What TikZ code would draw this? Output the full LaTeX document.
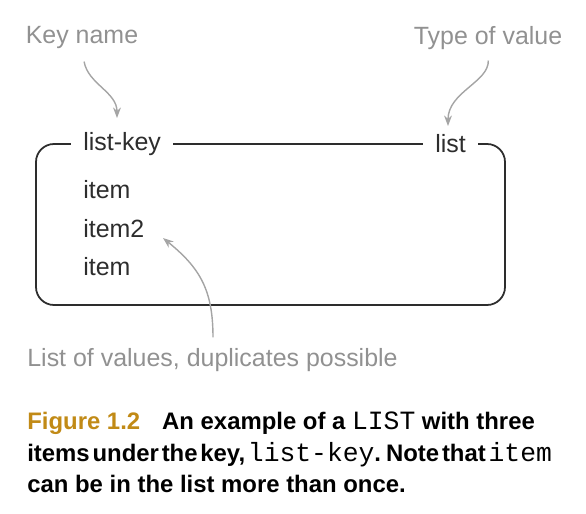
\documentclass[tikz,border=0pt]{standalone}
\usepackage{fontspec}
\setmainfont{Liberation Sans}
\setmonofont{Liberation Mono}
\usetikzlibrary{arrows.meta}
\definecolor{notegray}{RGB}{145,145,145}
\definecolor{arrowgray}{RGB}{165,165,165}
\definecolor{inkgray}{RGB}{45,45,45}
\definecolor{figgold}{RGB}{193,138,22}
\newcommand{\keycode}[1]{{\mdseries\ttfamily\fontsize{15}{17.9}\selectfont #1}}
\tikzstyle{note} = [text=notegray, font=\fontsize{14.2}{17}\selectfont, inner sep=0pt]
\tikzstyle{entry} = [text=inkgray, font=\fontsize{14.2}{17}\selectfont, inner sep=0pt, anchor=west]
\tikzstyle{edge} = [entry, fill=white, inner xsep=0.24cm, inner ysep=2pt]
\tikzstyle{frame} = [draw=inkgray, line width=1pt, rounded corners=0.36cm]
\tikzstyle{pointer} = [draw=arrowgray, line width=0.8pt, -{Stealth[length=6pt,width=4.5pt]}]
\tikzstyle{caption} = [anchor=north west, align=left, inner sep=0pt, font=\bfseries\fontsize{13.6}{17.9}\selectfont]

\begin{document}
\begin{tikzpicture}[x=0.02cm, y=-0.02cm]
\useasboundingbox (0,0) rectangle (586,514);
% the list box
\draw [frame] (36,144) rectangle (505,305);
\node (listkey) [edge] at (71,144) {list-key};
\node (listtype) [edge] at (423,144) {list};
\node (first) [entry] at (83,190) {item};
\node (second) [entry] at (83,229) {item2};
\node (third) [entry] at (83,267) {item};
% notes and pointers
\node (keyname) [note] at (82,38) {Key name};
\node (typename) [note] at (488,38) {Type of value};
\node (valuesnote) [note, anchor=west] at (27,360) {List of values, duplicates possible};
\coordinate (keytip) at (117,118);
\coordinate (typetip) at (448,126);
\coordinate (itemtip) at (163,238);
\draw [pointer, shorten <=7pt] (keyname.south) .. controls (88,84) and (117,92) .. (keytip);
\draw [pointer, shorten <=6pt] (typename.south) .. controls (489,82) and (448,92) .. (typetip);
\draw [pointer, shorten <=6pt] (valuesnote.north -| 213,0) .. controls (213,290) and (200,268) .. (itemtip);
% caption
\node (figcaption) [caption] at (27,412) {{\color{figgold}Figure 1.2}\hspace{0.44cm}An example of a \keycode{LIST} with three\\
{\spaceskip=1.6pt items under the key, \keycode{list-key}. Note that \keycode{item}}\\
can be in the list more than once.};
\end{tikzpicture}
\end{document}
